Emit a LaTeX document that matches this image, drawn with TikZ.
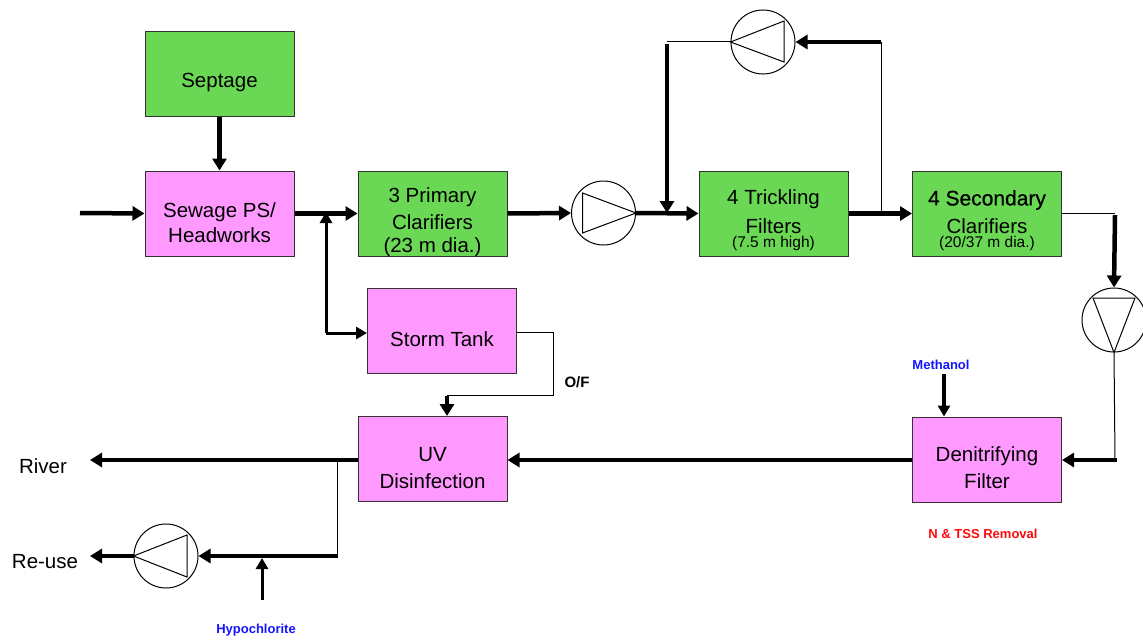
\documentclass[tikz,border=0pt]{standalone}
\usepackage{fontspec}
\setmainfont{Liberation Sans}
\usetikzlibrary{arrows.meta}
\definecolor{boxgreen}{RGB}{106,216,84}
\definecolor{boxpink}{RGB}{255,153,255}
\definecolor{chemblue}{RGB}{20,20,255}
\definecolor{remred}{RGB}{255,10,10}
\begin{document}
\begin{tikzpicture}[x=1pt,y=-1pt,
  procbox/.style={draw=black!80,line width=1pt,minimum width=149pt,minimum height=85pt,inner sep=0pt},
  gbox/.style={procbox,fill=boxgreen},
  pbox/.style={procbox,fill=boxpink},
  txt/.style={inner sep=0pt,font=\fontsize{20.5}{22}\selectfont},
  small/.style={inner sep=0pt,font=\fontsize{15.5}{16}\selectfont},
  chem/.style={inner sep=0pt,font=\bfseries\fontsize{13}{14}\selectfont},
  pumpc/.style={draw,circle,fill=white,line width=1pt,minimum size=64pt,inner sep=0pt},
  thin/.style={line width=1pt},
  flow/.style={line width=4.5pt,-{Triangle[length=12pt,width=14pt]}},
  mflow/.style={line width=3pt,-{Triangle[length=11pt,width=12pt]}},
  tline/.style={line width=4.5pt}
]
\useasboundingbox (0,0) rectangle (1143,642);

% boxes
\node[gbox] (sept) at (219.5,74) {};
\node[pbox] (sew) at (219.5,213.5) {};
\node[gbox] (prim) at (432.5,213.5) {};
\node[pbox] (storm) at (442,331) {};
\node[pbox] (uv) at (432.5,459) {};
\node[gbox] (trick) at (773.5,213.5) {};
\node[gbox] (sec) at (987,213.5) {};
\node[pbox] (denit) at (987,459.5) {};

% texts
\node[txt] (tsept) at (219.5,82) {Septage};
\node[txt] (tsew1) at (219.5,212) {Sewage PS/};
\node[txt] (tsew2) at (219.5,235) {Headworks};
\node[txt] (tprim1) at (432.5,197) {3 Primary};
\node[txt] (tprim2) at (432.5,222) {Clarifiers};
\node[txt] (tprim3) at (432.5,247) {(23 m dia.)};
\node[txt] (tstorm) at (442,339) {Storm Tank};
\node[txt] (tuv1) at (432.5,455) {UV};
\node[txt] (tuv2) at (432.5,481) {Disinfection};
\node[txt] (ttr1) at (773.5,199) {4 Trickling};
\node[txt] (ttr2) at (773.5,226) {Filters};
\node[small] (ttr3) at (773.5,243) {(7.5 m high)};
\node[txt,font=\fontsize{21}{22}\selectfont\addfontfeature{FakeBold=0.6}] (tsec1) at (987,200) {4 Secondary};
\node[txt] (tsec2) at (987,226) {Clarifiers};
\node[small] (tsec3) at (987,243) {(20/37 m dia.)};
\node[txt] (tden1) at (987,456) {Denitrifying};
\node[txt] (tden2) at (987,481) {Filter};

\node[txt] (river) at (43,466) {River};
\node[txt] (reuse) at (45,562) {Re-use};
\node[inner sep=0pt,font=\bfseries\fontsize{15}{16}\selectfont] (of) at (577,382) {O/F};
\node[chem,text=chemblue] (meth) at (941,365) {Methanol};
\node[chem,text=chemblue] (hypo) at (256,630) {Hypochlorite};
\node[chem,text=remred] (nts) at (983,534) {N \& TSS Removal};

% pumps
\node[pumpc] (p1) at (603.5,213) {};
\draw[thin] (p1.center)++(-21,-20) -- ++(0,40) -- (p1.east) -- cycle;
\node[pumpc] (p2) at (763,42) {};
\draw[thin] (p2.center)++(21,-21) -- ++(0,41) -- (p2.west) -- cycle;
\node[pumpc] (p3) at (1114,320) {};
\draw[thin] (p3.center)++(-21,-22) -- ++(42,0) -- (p3.south) -- cycle;
\node[pumpc] (p4) at (166,556) {};
\draw[thin] (p4.center)++(21,-21) -- ++(0,42) -- (p4.west) -- cycle;

% coordinates
\coordinate (inflow) at (80,213);
\coordinate (jstorm) at (326,213);
\coordinate (jrec) at (667,213);
\coordinate (jout) at (881,213);
\coordinate (rtop) at (881,42);
\coordinate (ltop) at (667,42);
\coordinate (secc) at (1115,213);
\coordinate (denc) at (1115,460);
\coordinate (of1) at (553,332);
\coordinate (of2) at (553,395);
\coordinate (of3) at (447,395);
\coordinate (riv) at (90,460);
\coordinate (jre) at (337,460);
\coordinate (jre2) at (337,556);
\coordinate (reu) at (90,556);
\coordinate (hyb) at (262,600);
\coordinate (hyt) at (262,558);
\coordinate (methb) at (944,374);

% main flow
\draw[flow] (inflow) -- (sew.west);
\draw[flow] (sept.south) -- (sew.north);
\draw[flow] (sew.east) -- (prim.west);
\draw[mflow] (jstorm) ++(0,120) coordinate (jsb) -- ([yshift=1pt]jstorm);
\draw[mflow] (jsb) -- (storm.west|-jsb);
\draw[flow] (prim.east) -- (p1.west);
\draw[flow] (p1.east) -- (trick.west);
\draw[flow] (trick.east) -- (sec.west);
\draw[thin] (jout) -- (rtop);
\draw[flow] (rtop) -- (p2.east);
\draw[thin] (p2.west) -- (ltop);
\draw[flow] ([yshift=-2.2pt]ltop) -- (jrec);
\draw[thin] (sec.east|-secc) -- (secc);
\draw[flow] ([yshift=-2.2pt]secc) -- (p3.north);
\draw[thin] (p3.south) -- (denc);
\draw[flow] ([xshift=2.2pt]denc) -- (denit.east|-denc);
\draw[mflow,line width=3.5pt] (methb) -- (denit.north-|methb);
\draw[flow] (denit.west|-denc) -- (uv.east|-denc);
\draw[thin] (storm.east|-of1) -- (of1) -- (of2) -- (of3);
\draw[flow] ([yshift=-0.5pt]of3) -- (uv.north-|of3);
\draw[flow] (uv.west|-riv) -- (riv);
\draw[thin] (jre) -- (jre2);
\draw[flow] ([xshift=0.5pt]jre2) -- (p4.east);
\draw[flow] (p4.west) -- (reu);
\draw[mflow] (hyb) -- (hyt);
\end{tikzpicture}
\end{document}
